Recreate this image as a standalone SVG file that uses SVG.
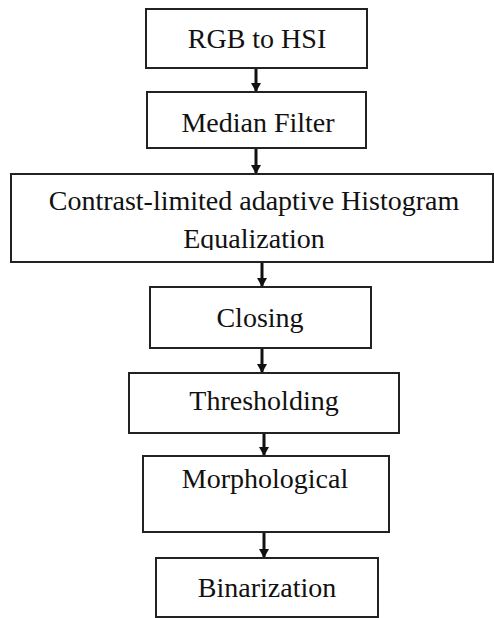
<svg xmlns="http://www.w3.org/2000/svg" width="494" height="618" viewBox="0 0 494 618">
<style>
.box{fill:#fff;stroke:#222;stroke-width:2}
.lbl{font-family:"Liberation Serif","Times New Roman",serif;font-size:28px;fill:#111;text-anchor:middle}
.edge{stroke:#111;stroke-width:3;fill:none}
</style>
<defs>
<marker id="ah" markerUnits="userSpaceOnUse" markerWidth="12" markerHeight="12" refX="9" refY="5.5" orient="auto">
<path d="M0,0.5 L9,5.5 L0,10.5 Z" fill="#111"/>
</marker>
<clipPath id="c3"><rect x="11" y="174" width="483" height="76"/></clipPath>
</defs>
<rect width="494" height="618" fill="#fff"/>
<g id="connectors">
<line class="edge" x1="256" y1="68" x2="256" y2="92" marker-end="url(#ah)"/>
<line class="edge" x1="256" y1="148" x2="256" y2="174" marker-end="url(#ah)"/>
<line class="edge" x1="262" y1="262" x2="262" y2="287" marker-end="url(#ah)"/>
<line class="edge" x1="262" y1="348" x2="262" y2="373" marker-end="url(#ah)"/>
<line class="edge" x1="264" y1="433" x2="264" y2="456" marker-end="url(#ah)"/>
<line class="edge" x1="264" y1="532" x2="264" y2="558" marker-end="url(#ah)"/>
</g>
<g id="n1"><rect class="box" x="146" y="9" width="221" height="59"/><text class="lbl" x="257" y="48">RGB to HSI</text></g>
<g id="n2"><rect class="box" x="147" y="92" width="219" height="56"/><text class="lbl" x="258" y="132">Median Filter</text></g>
<g id="n3"><rect class="box" x="11" y="174" width="482" height="88"/><g clip-path="url(#c3)"><text class="lbl" x="254" y="210">Contrast-limited adaptive Histogram</text><text class="lbl" x="254" y="248">Equalization</text></g></g>
<g id="n4"><rect class="box" x="150" y="287" width="221" height="61"/><text class="lbl" x="260" y="327">Closing</text></g>
<g id="n5"><rect class="box" x="129" y="373" width="270" height="60"/><text class="lbl" x="264" y="410">Thresholding</text></g>
<g id="n6"><rect class="box" x="143" y="456" width="246" height="76"/><text class="lbl" x="265" y="488">Morphological</text></g>
<g id="n7"><rect class="box" x="156" y="558" width="222" height="59"/><text class="lbl" x="267" y="597">Binarization</text></g>
</svg>
